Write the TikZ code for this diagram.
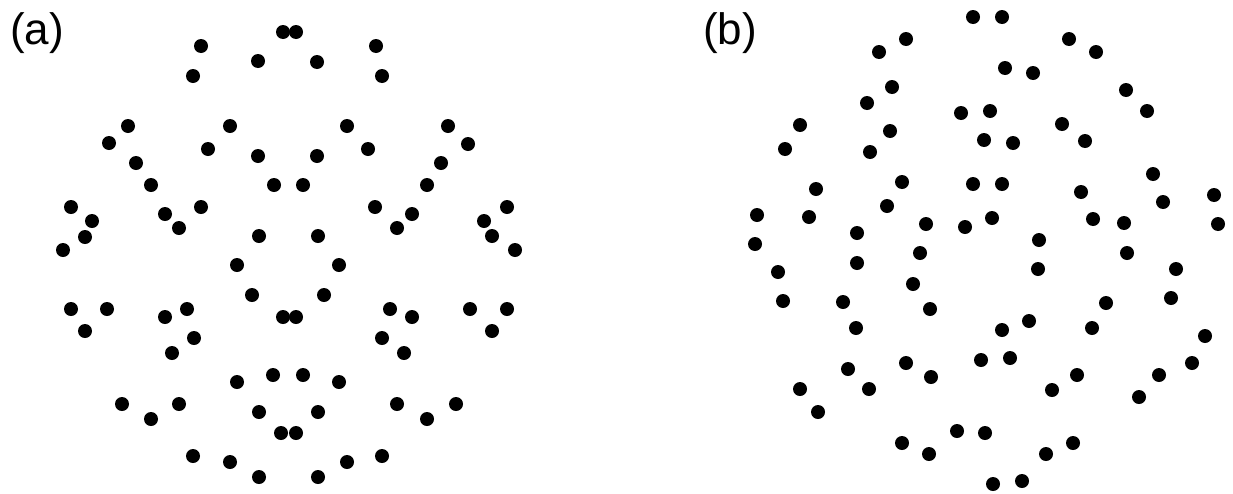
\documentclass[tikz,border=0pt]{standalone}
\usepackage{fontspec}
\setmainfont{Liberation Sans}

\tikzset{
  panellabel/.style={font=\fontsize{44}{44}\selectfont, inner sep=0pt},
  dotmark/.style={fill=black}
}

\begin{document}
\begin{tikzpicture}[x=1pt, y=-1pt]
  \useasboundingbox (0,0) rectangle (1233,493);

  \node[panellabel] (lbla) at (37,33) {(a)};
  \node[panellabel] (lblb) at (730,33) {(b)};

  % panel (a)
  \foreach \px/\py in {283/32, 296/32, 201/46, 193/76, 258/61, 376/46, 382/76, 317/62,
      128/126, 109/143, 136/163, 151/185, 230/126, 208/149, 201/207,
      258/156, 274/185, 303/185, 317/156, 347/126, 368/149,
      448/126, 468/144, 441/163, 427/185, 375/207, 412/214, 397/228,
      165/214, 179/228,
      71/207, 92/221, 85/237, 63/250, 507/207, 484/221, 492/236, 515/250,
      259/236, 318/236, 237/265, 339/265, 252/295, 324/295, 283/317, 296/317,
      71/309, 107/309, 85/331, 165/317, 187/309, 194/338, 172/353,
      390/309, 412/317, 382/338, 404/353, 470/309, 507/309, 492/331,
      237/382, 273/375, 303/375, 339/382, 259/412, 318/412, 281/433, 296/433,
      122/404, 151/419, 179/404, 397/404, 427/419, 456/404,
      193/456, 230/462, 259/477, 347/462, 382/456, 318/477}
    \fill[dotmark] (\px,\py) circle (7);

  % panel (b)
  \foreach \px/\py in {973/17, 1002/17, 906/39, 879/52, 1069/39, 1096/52, 1005/68, 1033/73,
      892/87, 867/103, 961/113, 990/111, 1126/90, 1147/111,
      800/125, 785/149, 890/131, 870/152, 984/140, 1013/143, 1062/124, 1085/141,
      816/189, 902/182, 973/184, 1002/184, 1081/192, 1153/174, 1163/202, 1214/195, 1218/224,
      757/215, 809/217, 887/206, 755/244, 857/233, 926/224, 965/227, 992/218, 1093/219, 1124/223,
      920/253, 1039/240, 1038/269, 1127/253, 778/272, 783/301, 857/263, 843/302, 856/328,
      913/284, 930/309, 1176/269, 1171/298, 1106/303, 1092/328, 1029/321, 1002/330,
      1205/336, 1192/363, 981/360, 1010/358, 848/369, 869/389, 800/389, 818/412,
      906/363, 931/377, 1159/375, 1139/397, 1077/375, 1052/390,
      957/431, 985/433, 902/443, 929/454, 1046/454, 1073/443, 993/484, 1022/481}
    \fill[dotmark] (\px,\py) circle (7);
\end{tikzpicture}
\end{document}
